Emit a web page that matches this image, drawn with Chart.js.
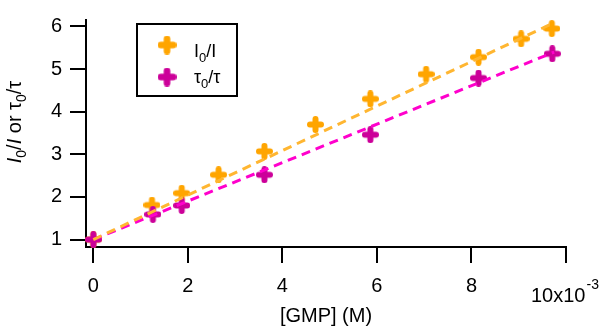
<!DOCTYPE html>
<html><head><meta charset="utf-8">
<script src="https://cdn.jsdelivr.net/npm/chart.js@4"></script>
<style>html,body{margin:0;padding:0;background:#fff;overflow:hidden}</style>
</head><body>
<canvas id="c" width="605" height="327"></canvas>
<script>
// [GMP] in units of 10^-3 M
const gmpIntensity = [0, 1.24, 1.87, 2.65, 3.62, 4.70, 5.86, 7.04, 8.15, 9.05, 9.70];
const intensityRatio = [1.0, 1.81, 2.09, 2.52, 3.07, 3.70, 4.30, 4.88, 5.28, 5.71, 5.95];
const gmpLifetime = [0, 1.26, 1.87, 3.62, 5.86, 8.15, 9.71];
const lifetimeRatio = [1.0, 1.59, 1.80, 2.52, 3.46, 4.79, 5.36];
const fitX = [0, 9.75];
const intensityFit = [1.0, 6.09];
const lifetimeFit = [1.0, 5.40];
const xTicks = [0, 2, 4, 6, 8, 10];
const yTicks = [1, 2, 3, 4, 5, 6];

const ORANGE = '#FFA500', ORANGE_LINE = '#FFB631';
const MAGENTA = '#CC0099', MAGENTA_LINE = '#FF00CC';
const FONT = '"Liberation Sans", Arial, sans-serif';

function plusMarker(color, size, thick) {
  const c = document.createElement('canvas');
  c.width = size; c.height = size;
  const g = c.getContext('2d');
  const h = size / 2, a = h - thick / 2;
  g.strokeStyle = color; g.lineWidth = thick; g.lineCap = 'round';
  g.beginPath();
  g.moveTo(h - a, h); g.lineTo(h + a, h);
  g.moveTo(h, h - a); g.lineTo(h, h + a);
  g.stroke();
  return c;
}
const orangeMark = plusMarker(ORANGE, 17, 6);
const magentaMark = plusMarker(MAGENTA, 17, 6);

function pts(xs, ys) { return xs.map((x, i) => ({x: x, y: ys[i]})); }

function drawRuns(ctx, runs, x, y, size, align) {
  const fontFor = s => (s === 'i' ? 'italic ' : '') + (s === 's' ? Math.round(size * 0.72) : size) + 'px ' + FONT;
  let total = 0;
  for (const [t, s] of runs) { ctx.font = fontFor(s); total += ctx.measureText(t).width; }
  let cx = align === 'center' ? x - total / 2 : x;
  ctx.textAlign = 'left'; ctx.textBaseline = 'alphabetic';
  for (const [t, s] of runs) {
    ctx.font = fontFor(s);
    ctx.fillText(t, cx, s === 's' ? y + size * 0.25 : y);
    cx += ctx.measureText(t).width;
  }
}

const decor = {
  id: 'decor',
  afterDraw(chart) {
    const ctx = chart.ctx;
    const area = chart.chartArea;
    ctx.save();
    ctx.fillStyle = '#000';
    // x axis title
    ctx.font = '20px ' + FONT; ctx.textAlign = 'center'; ctx.textBaseline = 'alphabetic';
    ctx.fillText('[GMP] (M)', (area.left + area.right) / 2, 322);
    // last tick label with exponent
    ctx.textAlign = 'left';
    ctx.font = '20px ' + FONT;
    ctx.fillText('10x10', 531, 302);
    const w = ctx.measureText('10x10').width;
    ctx.font = '14px ' + FONT;
    ctx.fillText('-3', 531 + w + 1, 289);
    // y axis title
    ctx.save();
    ctx.translate(21, 122);
    ctx.rotate(-Math.PI / 2);
    drawRuns(ctx, [['I', 'i'], ['0', 's'], ['/', 'n'], ['I', 'i'], [' or ', 'n'], ['τ', 'n'], ['0', 's'], ['/τ', 'n']], 0, 0, 20, 'center');
    ctx.restore();
    // legend
    ctx.lineWidth = 2; ctx.strokeStyle = '#000';
    ctx.strokeRect(137, 24, 100, 72);
    ctx.drawImage(orangeMark, 167 - 9.5, 45 - 9.5, 19, 19);
    ctx.drawImage(magentaMark, 167 - 9.5, 77 - 9.5, 19, 19);
    drawRuns(ctx, [['I', 'n'], ['0', 's'], ['/I', 'n']], 194, 57, 18, 'left');
    drawRuns(ctx, [['τ', 'n'], ['0', 's'], ['/τ', 'n']], 194, 83, 18, 'left');
    ctx.restore();
  }
};

new Chart(document.getElementById('c'), {
  type: 'scatter',
  data: {
    datasets: [
      {label: 'I0/I fit', data: pts(fitX, intensityFit), showLine: true, borderColor: ORANGE_LINE,
       borderWidth: 3, borderDash: [9, 6], pointRadius: 0, order: 0},
      {label: 'τ0/τ fit', data: pts(fitX, lifetimeFit), showLine: true, borderColor: MAGENTA_LINE,
       borderWidth: 3, borderDash: [9, 6], pointRadius: 0, order: 0},
      {label: 'I0/I', data: pts(gmpIntensity, intensityRatio), pointStyle: orangeMark,
       pointRadius: 8, order: 2, clip: false},
      {label: 'τ0/τ', data: pts(gmpLifetime, lifetimeRatio), pointStyle: magentaMark,
       pointRadius: 8, order: 1, clip: false}
    ]
  },
  options: {
    responsive: false, animation: false, devicePixelRatio: 1,
    layout: {padding: {left: 0, right: 39, top: 2, bottom: 0}},
    plugins: {legend: {display: false}, tooltip: {enabled: false}},
    scales: {
      x: {
        type: 'linear', min: -0.155, max: 10,
        afterFit(s) { s.height = 80; },
        afterBuildTicks(s) { s.ticks = xTicks.map(v => ({value: v})); },
        ticks: {callback: v => (v === 10 ? '' : String(v)), font: {family: FONT, size: 20},
                color: '#000', padding: 11, maxRotation: 0, autoSkip: false},
        grid: {drawOnChartArea: false, tickLength: 16, color: '#000', lineWidth: 2},
        border: {color: '#000', width: 2}
      },
      y: {
        type: 'linear', min: 0.826, max: 6.152,
        afterFit(s) { s.width = 86; },
        afterBuildTicks(s) { s.ticks = yTicks.map(v => ({value: v})); },
        ticks: {callback: v => String(v), font: {family: FONT, size: 20}, color: '#000', padding: 8, autoSkip: false},
        grid: {drawOnChartArea: false, tickLength: 16, color: '#000', lineWidth: 2},
        border: {color: '#000', width: 2}
      }
    }
  },
  plugins: [decor]
});
</script>
</body></html>
